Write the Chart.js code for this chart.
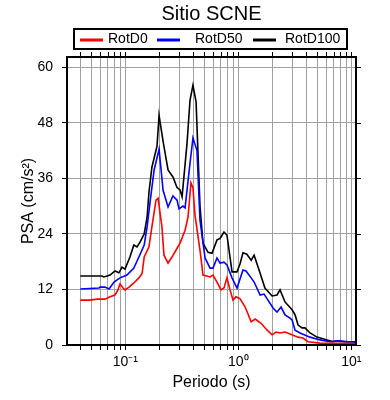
<!DOCTYPE html>
<html>
<head>
<meta charset="utf-8">
<script src="https://cdn.jsdelivr.net/npm/chart.js@4"></script>
<style>
  body { margin: 0; background: #fff; }
</style>
</head>
<body>
<canvas id="psa-chart" width="390" height="400"></canvas>
<script>
const periodD0 = [0.04, 0.0487, 0.0562, 0.0661, 0.0733, 0.0811, 0.0861, 0.0898, 0.0955, 0.0994, 0.108, 0.119, 0.132, 0.141, 0.147, 0.162, 0.172, 0.187, 0.195, 0.211, 0.22, 0.239, 0.259, 0.287, 0.305, 0.338, 0.359, 0.381, 0.397, 0.414, 0.458, 0.487, 0.562, 0.597, 0.648, 0.703, 0.747, 0.794, 0.845, 0.898, 0.954, 1.035, 1.15, 1.3, 1.41, 1.59, 1.8, 1.99, 2.16, 2.34, 2.59, 2.87, 3.38, 3.74, 4.14, 5.29, 10.8]
const psaD0 = [9.7, 9.7, 9.9, 9.9, 10.4, 10.8, 11.9, 13.2, 12.3, 11.9, 12.5, 13.4, 14.5, 15.5, 19.0, 21.2, 25.5, 31.3, 31.7, 25.5, 19.4, 17.7, 19.0, 20.9, 22.0, 24.8, 27.6, 35.0, 33.9, 28.0, 20.5, 15.1, 14.7, 15.1, 13.6, 11.9, 12.3, 14.5, 11.9, 9.7, 10.4, 10.0, 8.2, 5.0, 5.6, 4.7, 3.2, 2.2, 2.8, 2.6, 2.8, 2.4, 1.7, 1.5, 0.7, 0.4, 0.3]

const periodD50 = [0.04, 0.0585, 0.0597, 0.0661, 0.0718, 0.0795, 0.0898, 0.1035, 0.119, 0.132, 0.147, 0.156, 0.166, 0.18, 0.199, 0.216, 0.239, 0.264, 0.287, 0.299, 0.324, 0.338, 0.374, 0.397, 0.431, 0.458, 0.508, 0.562, 0.597, 0.648, 0.689, 0.747, 0.794, 0.88, 0.974, 1.1, 1.17, 1.3, 1.38, 1.56, 1.69, 1.83, 2.03, 2.2, 2.39, 2.59, 2.87, 2.99, 3.18, 3.52, 4.31, 5.29, 6.48, 7.47, 10.8]
const psaD50 = [12.1, 12.3, 12.5, 12.5, 12.1, 13.6, 14.5, 15.1, 16.6, 19.0, 21.6, 25.5, 31.0, 37.8, 42.3, 33.4, 29.8, 32.2, 31.3, 29.4, 30.0, 29.6, 39.3, 44.7, 42.0, 27.0, 18.8, 16.6, 16.6, 18.8, 17.7, 17.9, 17.3, 14.5, 12.3, 16.2, 16.0, 14.5, 13.6, 10.8, 11.0, 9.7, 8.0, 7.1, 8.2, 6.5, 5.8, 5.4, 3.2, 2.6, 1.7, 1.1, 0.7, 0.9, 0.6]

const periodD100 = [0.04, 0.0622, 0.0648, 0.0733, 0.0811, 0.0879, 0.0935, 0.0994, 0.11, 0.119, 0.127, 0.135, 0.147, 0.156, 0.162, 0.172, 0.191, 0.199, 0.216, 0.239, 0.264, 0.287, 0.305, 0.318, 0.352, 0.374, 0.397, 0.423, 0.458, 0.487, 0.54, 0.585, 0.648, 0.689, 0.747, 0.794, 0.88, 0.974, 1.035, 1.1, 1.19, 1.3, 1.38, 1.56, 1.72, 1.99, 2.2, 2.34, 2.59, 2.99, 3.18, 3.38, 3.66, 3.89, 4.31, 4.97, 6.1, 6.89, 7.62, 8.79, 10.8]
const psaD100 = [14.9, 14.9, 14.7, 15.1, 16.0, 15.6, 16.8, 16.4, 19.0, 21.6, 21.2, 22.2, 24.0, 27.6, 33.0, 38.4, 43.0, 49.6, 44.0, 37.8, 36.3, 34.0, 33.5, 32.0, 43.6, 52.9, 56.1, 52.5, 30.0, 22.0, 20.0, 19.8, 22.7, 23.0, 24.4, 23.7, 15.8, 15.8, 17.5, 19.9, 19.6, 18.3, 19.4, 15.5, 12.3, 10.6, 10.8, 11.9, 9.3, 7.6, 6.5, 4.3, 3.7, 3.7, 2.6, 1.7, 1.1, 0.7, 0.9, 0.7, 0.7]

const xTicks = [0.04, 0.05, 0.06, 0.07, 0.08, 0.09, 0.1, 0.2, 0.3, 0.4, 0.5, 0.6, 0.7, 0.8, 0.9, 1, 2, 3, 4, 5, 6, 7, 8, 9, 10]
const xTickLabels = {'0.1': '10\u207B\u00B9', '1': '10\u2070', '10': '10\u00B9'}
const yTicks = [0, 12, 24, 36, 48, 60]

const FONT = '"Liberation Sans", Arial, sans-serif'

const toPoints = (xs, ys) => xs.map((x, i) => ({x: x, y: ys[i]}))

// titulo, leyenda con marco, marco del grafico y ticks arriba/derecha
const framePlugin = {
    id: 'frame',
    afterDraw(chart) {
        const {ctx, chartArea: a, scales} = chart
        ctx.save()
        ctx.strokeStyle = '#000'
        ctx.lineWidth = 1
        ctx.beginPath()
        for (const t of xTicks) {
            const px = Math.round(scales.x.getPixelForValue(t)) + 0.5
            ctx.moveTo(px, a.top)
            ctx.lineTo(px, a.top - 5)
        }
        for (const t of yTicks) {
            const py = Math.round(scales.y.getPixelForValue(t)) + 0.5
            ctx.moveTo(a.right, py)
            ctx.lineTo(a.right + 5, py)
        }
        ctx.stroke()
        ctx.lineWidth = 2
        ctx.strokeRect(a.left, a.top, a.right - a.left, a.bottom - a.top)

        ctx.fillStyle = '#000'
        ctx.textAlign = 'center'
        ctx.textBaseline = 'middle'
        ctx.font = '20px ' + FONT
        ctx.fillText('Sitio SCNE', (a.left + a.right) / 2, 14)

        ctx.lineWidth = 2
        ctx.strokeRect(74, 29, 273, 20)
        const lineX = [80, 157, 253]
        const textX = [108, 195, 285]
        ctx.font = '14px ' + FONT
        ctx.textAlign = 'left'
        chart.data.datasets.forEach((ds, i) => {
            ctx.strokeStyle = ds.borderColor
            ctx.lineWidth = 3
            ctx.beginPath()
            ctx.moveTo(lineX[i], 40)
            ctx.lineTo(lineX[i] + 23, 40)
            ctx.stroke()
            ctx.fillText(ds.label, textX[i], 39.5)
        })
        ctx.restore()
    }
}

const ctx = document.getElementById('psa-chart').getContext('2d')

const psaChart = new Chart(ctx, {
    type: 'line',
    data: {
        datasets: [{
            label: 'RotD0',
            data: toPoints(periodD0, psaD0),
            borderColor: '#ff0000',
        }, {
            label: 'RotD50',
            data: toPoints(periodD50, psaD50),
            borderColor: '#0000ff',
        }, {
            label: 'RotD100',
            data: toPoints(periodD100, psaD100),
            borderColor: '#000000',
        }]
    },
    options: {
        responsive: false,
        animation: false,
        layout: { padding: { top: 57, right: 34, left: 0, bottom: 0 } },
        elements: {
            line: { borderWidth: 1.6, tension: 0 },
            point: { radius: 0 }
        },
        plugins: {
            legend: { display: false },
            tooltip: { enabled: false }
        },
        scales: {
            x: {
                type: 'logarithmic',
                min: 0.0305,
                max: 11,
                afterBuildTicks: s => { s.ticks = xTicks.map(v => ({value: v})) },
                afterFit: s => { s.height = 55 },
                ticks: {
                    autoSkip: false,
                    maxRotation: 0,
                    padding: 4,
                    color: '#000',
                    font: { family: FONT, size: 14 },
                    callback: v => xTickLabels[String(v)] || ''
                },
                grid: { color: '#a0a0a0', tickColor: '#000', tickLength: 5 },
                border: { display: false },
                title: {
                    display: true,
                    text: 'Periodo (s)',
                    color: '#000',
                    font: { family: FONT, size: 16 },
                    padding: { top: 0, bottom: 8 }
                }
            },
            y: {
                min: 0,
                max: 62.2,
                afterBuildTicks: s => { s.ticks = yTicks.map(v => ({value: v})) },
                afterFit: s => { s.width = 67 },
                ticks: {
                    padding: 9,
                    color: '#000',
                    font: { family: FONT, size: 14 }
                },
                grid: { color: '#a0a0a0', tickColor: '#000', tickLength: 5 },
                border: { display: false },
                title: {
                    display: true,
                    text: 'PSA (cm/s\u00B2)',
                    color: '#000',
                    font: { family: FONT, size: 16 },
                    padding: { top: 19, bottom: 0 }
                }
            }
        }
    },
    plugins: [framePlugin]
})
</script>
</body>
</html>
